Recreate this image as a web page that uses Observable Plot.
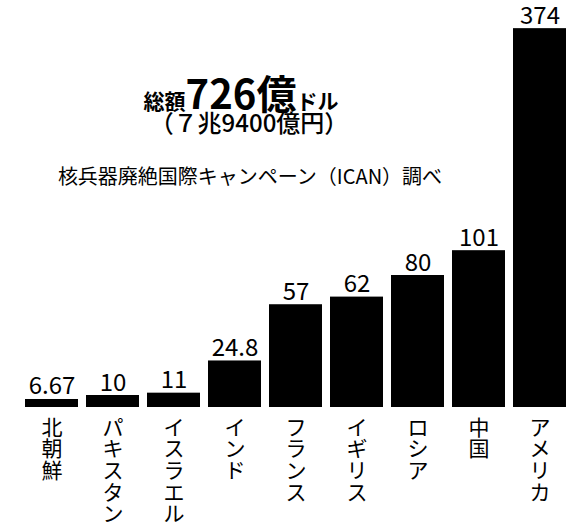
<!DOCTYPE html>
<html><head><meta charset="utf-8">
<script src="https://cdn.jsdelivr.net/npm/d3@7"></script>
<script src="https://cdn.jsdelivr.net/npm/@observablehq/plot@0.6"></script>
<style>
body{margin:0;background:#fff;}
#wrap{position:relative;width:573px;height:529px;font-family:"Noto Sans CJK JP",sans-serif;color:#000;}
#chart{position:absolute;left:0;top:0;}
.note{position:absolute;width:400px;text-align:center;white-space:nowrap;line-height:1;}
</style></head><body>
<div id="wrap">
<div id="chart"></div>
<div class="note" style="left:41px;top:74px;font-size:40px;font-weight:bold;line-height:36px;"><span style="font-size:21px">総額</span>726億<span style="font-size:21px">ドル</span></div>
<div class="note" style="left:49px;top:110px;font-size:24px;font-weight:500;line-height:23px;">（７兆9400億円）</div>
<div class="note" style="left:50px;top:166px;font-size:20px;line-height:20px;">核兵器廃絶国際キャンペーン（ICAN）調べ</div>
</div>
<script>
const countries = ["北朝鮮","パキスタン","イスラエル","インド","フランス","イギリス","ロシア","中国","アメリカ"];
const spending = [6.67, 10, 11, 24.8, 57, 62, 80, 101, 374];
const data = countries.map((c, i) => ({country: c, value: spending[i]}));

const chart = Plot.plot({
  width: 573,
  height: 529,
  marginLeft: 25,
  marginRight: 6,
  marginTop: 0,
  marginBottom: 122,
  style: {fontFamily: '"Noto Sans CJK JP", sans-serif', background: "transparent", color: "#000", overflow: "visible"},
  x: {domain: countries, paddingInner: 0.13, paddingOuter: 0, axis: null, label: null},
  y: {type: "linear", domain: [0, 10, 25, 60, 100, 400], range: [407, 395, 360, 299, 251, 7], axis: null},
  marks: [
    Plot.barY(data, {x: "country", y: "value", fill: "#000"}),
    Plot.text(data, {x: "country", y: "value", text: d => String(d.value), lineAnchor: "bottom", dy: -5, fontSize: 24, fill: "#000"}),
    Plot.axisX({tickSize: 0, tickPadding: 12, fontSize: 21, lineHeight: 1.03, label: null, tickFormat: d => [...d].join("\n"), fill: "#000"})
  ]
});
document.getElementById("chart").appendChild(chart);
</script>
</body></html>
